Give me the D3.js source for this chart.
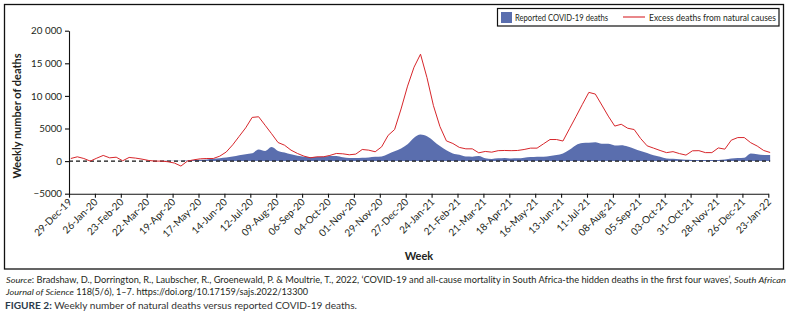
<!DOCTYPE html>
<html>
<head>
<meta charset="utf-8">
<script src="https://cdn.jsdelivr.net/npm/d3@7"></script>
<style>
    body { margin: 0; background: #fff; }
    #chart-area { width: 792px; height: 315px; }
    text { fill: #231f20; }
</style>
</head>
<body>
<div id="chart-area"></div>
<script>

// first week of the series (weekly points, one every 7 days)
const firstWeek = "31-Dec-19";

// tick labels on the x axis (every 4 weeks)
const tickLabels = ["29-Dec-19", "26-Jan-20", "23-Feb-20", "22-Mar-20", "19-Apr-20", "17-May-20",
    "14-Jun-20", "12-Jul-20", "09-Aug-20", "06-Sep-20", "04-Oct-20", "01-Nov-20", "29-Nov-20",
    "27-Dec-20", "24-Jan-21", "21-Feb-21", "21-Mar-21", "18-Apr-21", "16-May-21", "13-Jun-21",
    "11-Jul-21", "08-Aug-21", "05-Sep-21", "03-Oct-21", "31-Oct-21", "28-Nov-21", "26-Dec-21",
    "23-Jan-22"];

const yTicks = [-5000, 0, 5000, 10000, 15000, 20000];

// excess deaths from natural causes (red line)
const excessDeaths = [
    400, 660, 400, 0, 450, 870, 500, 600, 50, 560,
    460, 300, 100, 0, 0, -100, -300, -760, 0, 200,
    350, 400, 400, 760, 1400, 2500, 3800, 5100, 6700, 6800,
    5500, 4200, 2850, 2440, 1680, 1170, 760, 510, 660, 660,
    870, 1170, 1120, 970, 1070, 1780, 1680, 1430, 2190, 3950,
    4840, 8000, 11500, 14400, 16400, 12800, 8500, 5300, 3100, 2700,
    2100, 1880, 1880, 1270, 1480, 1370, 1600, 1630, 1600, 1630,
    1780, 1990, 1990, 2650, 3310, 3310, 3080, 4950, 6800, 8700,
    10540, 10280, 8600, 6900, 5370, 5650, 5040, 4840, 3460, 2340,
    1990, 1630, 1300, 1450, 1150, 920, 1580, 1600, 1300, 1300,
    2020, 1830, 3210, 3610, 3610, 2820, 2310, 1630, 1320
];

// reported COVID-19 deaths (blue area)
const covidDeaths = [
    0, 0, 0, 0, 0, 0, 0, 0, 0, 0,
    0, 0, 0, 10, 20, 40, 50, 70, 100, 150,
    200, 260, 350, 450, 550, 700, 900, 1050, 1200, 1780,
    1550, 2150, 1550, 1320, 1050, 820, 680, 620, 620, 700,
    780, 800, 600, 480, 480, 520, 560, 650, 720, 1100,
    1500, 1950, 2600, 3600, 4080, 3800, 3100, 2300, 1650, 1170,
    970, 700, 680, 780, 420, 330, 420, 480, 400, 420,
    520, 620, 680, 680, 780, 920, 1170, 1750, 2450, 2780,
    2800, 2900, 2650, 2650, 2400, 2450, 2250, 1900, 1550, 1250,
    900, 650, 400, 350, 280, 200, 170, 150, 170, 170,
    180, 240, 400, 480, 520, 1170, 1050, 950, 950
];

const seriesNames = ["Reported COVID-19 deaths", "Excess deaths from natural causes"];


class WeeklyDeathsChart {

    constructor(_parentElement) {
        this.parentElement = _parentElement;
        this.initVis();
    }

    initVis() {
        let vis = this;

        vis.width = 792;
        vis.height = 315;

        vis.svg = d3.select("#" + vis.parentElement).append("svg")
            .attr("width", vis.width)
            .attr("height", vis.height)
            .style("font-family", "Lato, 'Open Sans', sans-serif");

        // outer frame
        vis.svg.append("rect")
            .attr("x", 4.5).attr("y", 4.5)
            .attr("width", 779).attr("height", 264.5)
            .attr("fill", "none")
            .attr("stroke", "#111")
            .attr("stroke-width", 1.3);

        vis.parseDate = d3.utcParse("%d-%b-%y");

        // scales
        vis.x = d3.scaleUtc()
            .domain([vis.parseDate(tickLabels[0]), vis.parseDate(tickLabels[tickLabels.length - 1])])
            .range([69, 768.3]);

        vis.y = d3.scaleLinear()
            .domain([-5000, 20000])
            .range([193.7, 30.7]);

        vis.wrangleData();
    }

    wrangleData() {
        let vis = this;
        let start = vis.parseDate(firstWeek);

        vis.displayData = excessDeaths.map((v, i) => ({
            date: d3.utcDay.offset(start, 7 * i),
            excess: v,
            covid: covidDeaths[i]
        }));

        vis.updateVis();
    }

    updateVis() {
        let vis = this;

        // covid area
        let area = d3.area()
            .curve(d3.curveMonotoneX)
            .x(d => vis.x(d.date))
            .y0(vis.y(0))
            .y1(d => vis.y(d.covid));

        vis.svg.append("path")
            .datum(vis.displayData)
            .attr("d", area)
            .attr("fill", "#5a6eae");

        // zero reference line
        vis.svg.append("line")
            .attr("x1", vis.x.range()[0])
            .attr("x2", vis.x(vis.displayData[vis.displayData.length - 1].date))
            .attr("y1", vis.y(0)).attr("y2", vis.y(0))
            .attr("stroke", "#111")
            .attr("stroke-width", 1.2)
            .attr("stroke-dasharray", "4,3");

        // excess deaths line
        let line = d3.line()
            .x(d => vis.x(d.date))
            .y(d => vis.y(d.excess));

        vis.svg.append("path")
            .datum(vis.displayData)
            .attr("d", line)
            .attr("fill", "none")
            .attr("stroke", "#d7262b")
            .attr("stroke-width", 1);

        // y axis
        let yAxis = d3.axisLeft(vis.y)
            .tickValues(yTicks)
            .tickSize(4)
            .tickSizeOuter(0)
            .tickPadding(3)
            .tickFormat(v => {
                if (v < 0) return "\u2212" + Math.abs(v);
                if (v >= 10000) return d3.format(",")(v).replace(",", " ");
                return v;
            });

        let yg = vis.svg.append("g")
            .attr("transform", "translate(69,0)")
            .call(yAxis);
        yg.selectAll("text").attr("font-size", 9.8).attr("font-family", "Lato, sans-serif");
        yg.selectAll("line, path").attr("stroke", "#111").attr("stroke-width", 1.1);

        // x axis
        let xAxis = d3.axisBottom(vis.x)
            .tickValues(tickLabels.map(vis.parseDate))
            .tickSize(4)
            .tickSizeOuter(0)
            .tickFormat(d3.utcFormat("%d-%b-%y"));

        let xg = vis.svg.append("g")
            .attr("transform", `translate(0,${vis.y(-5000)})`)
            .call(xAxis);
        xg.selectAll("line, path").attr("stroke", "#111").attr("stroke-width", 1.1);
        xg.selectAll("text")
            .attr("font-size", 10)
            .attr("font-family", "Lato, sans-serif")
            .attr("text-anchor", "end")
            .attr("dy", null)
            .attr("y", 0)
            .attr("transform", "translate(3,9) rotate(-45)");

        // axis titles
        vis.svg.append("text")
            .attr("transform", "translate(21,116) rotate(-90)")
            .attr("text-anchor", "middle")
            .attr("font-size", 11)
            .attr("font-weight", "bold")
            .text("Weekly number of deaths");

        vis.svg.append("text")
            .attr("x", 419).attr("y", 260)
            .attr("text-anchor", "middle")
            .attr("font-size", 11)
            .attr("font-weight", "bold")
            .text("Week");

        // legend
        let legend = vis.svg.append("g").attr("class", "legend");
        legend.append("rect")
            .attr("x", 497.5).attr("y", 8.5)
            .attr("width", 281.5).attr("height", 17.5)
            .attr("fill", "#fff")
            .attr("stroke", "#111")
            .attr("stroke-width", 1.2);
        legend.append("rect")
            .attr("x", 501).attr("y", 12)
            .attr("width", 11).attr("height", 11)
            .attr("fill", "#5a6eae");
        legend.append("text")
            .attr("x", 515).attr("y", 20.5)
            .attr("font-size", 9)
            .attr("textLength", 93)
            .attr("lengthAdjust", "spacingAndGlyphs")
            .text(seriesNames[0]);
        legend.append("line")
            .attr("x1", 623).attr("x2", 645)
            .attr("y1", 17).attr("y2", 17)
            .attr("stroke", "#d7262b")
            .attr("stroke-width", 1.1);
        legend.append("text")
            .attr("x", 649).attr("y", 20.5)
            .attr("font-size", 9)
            .attr("textLength", 127)
            .attr("lengthAdjust", "spacingAndGlyphs")
            .text(seriesNames[1]);

        // source + caption
        let src = vis.svg.append("text")
            .attr("x", 6).attr("y", 283)
            .attr("font-size", 8.5)
            .attr("textLength", 780)
            .attr("lengthAdjust", "spacingAndGlyphs");
        src.append("tspan").attr("font-style", "italic").text("Source");
        src.append("tspan").text(": Bradshaw, D., Dorrington, R., Laubscher, R., Groenewald, P. & Moultrie, T., 2022, \u2018COVID-19 and all-cause mortality in South Africa-the hidden deaths in the first four waves\u2019, ");
        src.append("tspan").attr("font-style", "italic").text("South African");

        let src2 = vis.svg.append("text")
            .attr("x", 6).attr("y", 294.5)
            .attr("font-size", 8.5)
            .attr("textLength", 302)
            .attr("lengthAdjust", "spacingAndGlyphs");
        src2.append("tspan").attr("font-style", "italic").text("Journal of Science");
        src2.append("tspan").text(" 118(5/6), 1\u20137. https://doi.org/10.17159/sajs.2022/13300");

        let cap = vis.svg.append("text")
            .attr("x", 5).attr("y", 308.5)
            .attr("font-size", 9.5)
            .attr("textLength", 352)
            .attr("lengthAdjust", "spacingAndGlyphs");
        cap.append("tspan").attr("font-weight", "bold").style("fill", "#2b3a4a").text("FIGURE 2:");
        cap.append("tspan").style("fill", "#333").text(" Weekly number of natural deaths versus reported COVID-19 deaths.");
    }
}

new WeeklyDeathsChart("chart-area");

</script>
</body>
</html>
